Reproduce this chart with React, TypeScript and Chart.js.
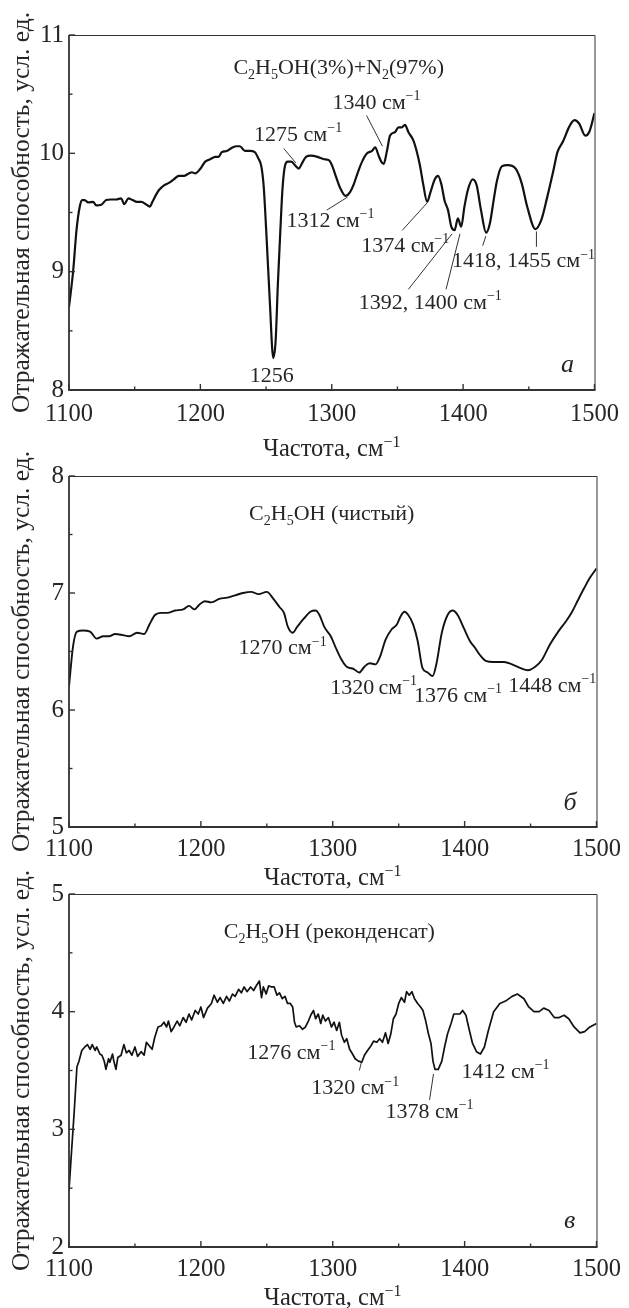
import React, { useEffect, useRef } from 'react';
import { Chart, registerables } from 'chart.js';

Chart.register(...registerables);

const FONT = "'Liberation Serif', 'Times New Roman', Times, serif";
const TEXT = '#262626';
const AXIS = '#333333';

// ---------- shared axis values ----------
const xTickValues = [1100, 1200, 1300, 1400, 1500];
const xMinorStep = 50;
const yMinorStep = 0.5;
const yTitle = 'Отражательная способность, усл. ед.';
const xTitleParts: [string, string][] = [['Частота, см', ''], ['−1', 'sup']];

// ---------- panel а: C2H5OH(3%)+N2(97%) ----------
const freqA = [
  1100, 1103.2, 1105.7, 1108.2, 1110, 1112, 1114.5, 1118.3, 1120.8, 1124.6, 1128.3, 1132, 1135.9, 1139.7,
  1142.1, 1145.2, 1148.4, 1151.7, 1155.2, 1158.5, 1161.5, 1163.5, 1166, 1168.5, 1172.3, 1176, 1179.8,
  1183.6, 1187.4, 1191.2, 1193.6, 1196, 1200, 1203.7, 1207.5, 1211.3, 1213.8, 1216.3, 1220, 1223.8,
  1227.6, 1230.1, 1234, 1237.7, 1241.4, 1244, 1246.4, 1248.2, 1250.2, 1252.8, 1255.5, 1257.3, 1259,
  1260.8, 1262.5, 1264.5, 1266.5, 1269.1, 1272.8, 1274.9, 1277.1, 1280.4, 1284.1, 1289.2, 1294.2, 1298,
  1300.5, 1303, 1306.7, 1310.5, 1313.8, 1316.8, 1319.9, 1323.1, 1326.9, 1330.6, 1333.1, 1335.7, 1337.7,
  1339.5, 1342, 1344.4, 1348.2, 1350.8, 1353.3, 1355.8, 1358.3, 1362.1, 1364.6, 1367.1, 1369.6, 1372.6,
  1375.1, 1378.4, 1380.9, 1383.4, 1385.9, 1388.5, 1391, 1393.5, 1396, 1398.5, 1401, 1403.6, 1407.3,
  1410.3, 1413.6, 1417.5, 1420.4, 1423.6, 1425.8, 1429.4, 1434, 1440, 1444.5, 1449, 1455, 1459.6, 1464,
  1468.8, 1471.8, 1476, 1481, 1484.8, 1488.4, 1493, 1496, 1500,
];
const reflA = [
  8.7, 9.01, 9.35, 9.55, 9.605, 9.605, 9.585, 9.59, 9.56, 9.565, 9.605, 9.61, 9.61, 9.62,
  9.57, 9.62, 9.605, 9.59, 9.59, 9.57, 9.55, 9.59, 9.645, 9.69, 9.73, 9.75, 9.78,
  9.81, 9.81, 9.83, 9.84, 9.83, 9.87, 9.93, 9.95, 9.97, 9.97, 10.01, 10.02, 10.045,
  10.06, 10.06, 10.02, 10.02, 10.01, 9.96, 9.89, 9.72, 9.33, 8.76, 8.27, 8.42, 8.9,
  9.33, 9.7, 9.9, 9.93, 9.93, 9.89, 9.87, 9.91, 9.97, 9.98, 9.97, 9.95, 9.94,
  9.89, 9.81, 9.7, 9.64, 9.67, 9.74, 9.84, 9.93, 10.0, 10.02, 10.05, 9.98, 9.93,
  9.91, 10.02, 10.15, 10.18, 10.22, 10.22, 10.24, 10.18, 10.11, 10.02, 9.9, 9.74, 9.59,
  9.67, 9.78, 9.81, 9.74, 9.6, 9.52, 9.38, 9.35, 9.45, 9.38, 9.55, 9.69, 9.78,
  9.73, 9.52, 9.33, 9.41, 9.63, 9.77, 9.89, 9.9, 9.87, 9.75, 9.54, 9.36, 9.44, 9.63,
  9.86, 10.01, 10.1, 10.23, 10.28, 10.25, 10.15, 10.18, 10.34,
];
const yTicksA = [8, 9, 10, 11];

// ---------- panel б: C2H5OH (чистый) ----------
const freqB = [
  1100, 1103, 1106, 1110.6, 1116, 1121, 1126, 1130.4, 1135, 1141, 1145.6, 1151.7, 1157, 1161, 1165,
  1170, 1174.5, 1180.5, 1186.6, 1191, 1195, 1198.8, 1203, 1208, 1214, 1220, 1226, 1232, 1238, 1243.8,
  1250, 1255, 1259.6, 1263, 1266, 1269.6, 1273, 1278, 1283, 1287, 1290, 1293.6, 1298.5, 1302, 1306.7,
  1310.6, 1316, 1320, 1324, 1328, 1332.5, 1336, 1340, 1344.7, 1348.6, 1351.4, 1354.4, 1357.4, 1361,
  1364.4, 1368, 1372, 1375.7, 1378.7, 1382.7, 1387, 1391, 1394.8, 1399.4, 1404, 1408, 1411.6, 1416,
  1422, 1430, 1436, 1442, 1448, 1453.5, 1458.7, 1464.7, 1471, 1477, 1481.5, 1486, 1490.6, 1495, 1500,
];
const reflB = [
  6.2, 6.54, 6.67, 6.68, 6.67, 6.61, 6.63, 6.63, 6.65, 6.64, 6.63, 6.66, 6.65, 6.73, 6.81,
  6.83, 6.83, 6.85, 6.86, 6.89, 6.86, 6.9, 6.93, 6.92, 6.95, 6.96, 6.98, 7.0, 7.01, 6.99,
  7.01, 6.95, 6.88, 6.83, 6.71, 6.66, 6.71, 6.78, 6.84, 6.85, 6.81, 6.71, 6.63, 6.54, 6.43,
  6.37, 6.35, 6.32, 6.37, 6.4, 6.39, 6.46, 6.6, 6.69, 6.73, 6.8, 6.84, 6.81, 6.73,
  6.59, 6.36, 6.32, 6.29, 6.4, 6.66, 6.81, 6.85, 6.81, 6.7, 6.59, 6.53, 6.47, 6.42,
  6.41, 6.41, 6.39, 6.36, 6.34, 6.37, 6.43, 6.56, 6.67, 6.76, 6.84, 6.94, 7.04, 7.13, 7.21,
];
const yTicksB = [5, 6, 7, 8];

// ---------- panel в: C2H5OH (реконденсат) ----------
const freqC = [
  1100, 1101.5, 1104, 1106, 1107.6, 1109.7, 1112, 1114, 1116, 1117.6, 1119.8, 1121, 1123.4, 1125,
  1126.7, 1128, 1130, 1131, 1133, 1134, 1135.6, 1137, 1139.5, 1141.6, 1143.5, 1145.6, 1147.7, 1150,
  1152, 1154.7, 1157, 1158.7, 1160.8, 1163, 1165, 1167.5, 1170, 1172, 1174, 1175.4, 1177.5, 1179.6,
  1182, 1184, 1186.6, 1188.8, 1191, 1193, 1195.7, 1198, 1200, 1202, 1205, 1208, 1210, 1212.5, 1214.6,
  1217, 1219.5, 1221.6, 1224, 1226, 1228.6, 1230.7, 1232.8, 1235, 1237.7, 1240, 1242, 1244.4, 1246,
  1247.4, 1249.5, 1251.4, 1253.5, 1255.6, 1257.7, 1259.6, 1261.7, 1263.8, 1265.7, 1267.8, 1269.6, 1271,
  1272.3, 1274.8, 1277, 1279.3, 1281.5, 1283.3, 1285.4, 1287, 1289, 1290.9, 1292.4, 1294.5, 1296.7, 1299,
  1301, 1303, 1305, 1306.7, 1308.8, 1310.6, 1312.8, 1315, 1317, 1319.5, 1322, 1324, 1326.4, 1329, 1331,
  1333.4, 1335.6, 1337.7, 1340, 1342, 1344, 1346, 1348, 1350, 1352, 1354.4, 1356, 1358, 1360, 1362,
  1364.4, 1366.6, 1368.4, 1370.5, 1372.6, 1374.5, 1376, 1377.5, 1380, 1382.7, 1384.8, 1387, 1389.7,
  1391.8, 1394, 1396.4, 1398.5, 1401, 1403, 1406, 1409, 1412, 1415, 1418, 1422, 1426.7, 1431, 1436,
  1440, 1445, 1448.6, 1452.6, 1456.5, 1460, 1464, 1468, 1471.7, 1475.4, 1479, 1483, 1487.5, 1491, 1495,
  1500,
];
const reflC = [
  2.48, 2.74, 3.16, 3.53, 3.58, 3.67, 3.7, 3.72, 3.68, 3.72, 3.67, 3.7, 3.64, 3.63,
  3.58, 3.51, 3.6, 3.57, 3.64, 3.58, 3.51, 3.61, 3.63, 3.72, 3.65, 3.67, 3.63, 3.7,
  3.62, 3.66, 3.63, 3.74, 3.71, 3.68, 3.78, 3.87, 3.88, 3.91, 3.87, 3.92, 3.83, 3.87,
  3.92, 3.88, 3.95, 3.91, 3.98, 3.93, 4.01, 3.98, 4.04, 3.95, 4.03, 4.07, 4.14, 4.08, 4.12,
  4.07, 4.13, 4.09, 4.15, 4.13, 4.19, 4.16, 4.21, 4.17, 4.21, 4.18, 4.22, 4.26, 4.12,
  4.21, 4.15, 4.22, 4.21, 4.21, 4.14, 4.16, 4.11, 4.13, 4.07, 4.07, 4.04, 3.91,
  3.87, 3.88, 3.85, 3.87, 3.92, 3.97, 4.01, 3.94, 3.98, 3.9, 3.97, 3.92, 3.95, 3.87,
  3.91, 3.84, 3.91, 3.8, 3.74, 3.77, 3.68, 3.64, 3.6, 3.58, 3.57, 3.63, 3.67, 3.71, 3.75,
  3.74, 3.77, 3.74, 3.82, 3.73, 3.81, 3.94, 3.98, 4.07, 4.12, 4.08, 4.17, 4.14, 4.17, 4.11,
  4.07, 4.04, 4.01, 3.92, 3.81, 3.73, 3.58, 3.51, 3.51, 3.58, 3.7, 3.81, 3.9,
  3.98, 3.98, 3.98, 4.01, 3.97, 3.87, 3.73, 3.66, 3.64, 3.7, 3.84, 4.0, 4.07, 4.09, 4.13,
  4.15, 4.11, 4.04, 4.0, 4.0, 4.03, 4.01, 3.95, 3.95, 3.97, 3.94, 3.87, 3.82, 3.83, 3.87,
  3.9,
];
const yTicksC = [2, 3, 4, 5];

type Part = [string, string];
type Note = { parts: Part[]; f: number; v: number; size?: number; italic?: boolean };
type Leader = [number, number, number, number];

const sub = (t: string): Part => [t, 'sub'];
const sup = (t: string): Part => [t, 'sup'];
const txt = (t: string): Part => [t, ''];
const cm = (n: string): Part[] => [txt(n + ' см'), sup('−1')];

const notesA: Note[] = [
  { parts: [txt('C'), sub('2'), txt('H'), sub('5'), txt('OH(3%)+N'), sub('2'), txt('(97%)')], f: 1305.3, v: 10.73 },
  { parts: cm('1340'), f: 1334, v: 10.44 },
  { parts: cm('1275'), f: 1274.4, v: 10.17 },
  { parts: cm('1312'), f: 1299, v: 9.44 },
  { parts: cm('1374'), f: 1355.9, v: 9.23 },
  { parts: cm('1392, 1400'), f: 1375, v: 8.75 },
  { parts: cm('1418, 1455'), f: 1446, v: 9.1 },
  { parts: [txt('1256')], f: 1254.4, v: 8.13 },
  { parts: [txt('а')], f: 1479.4, v: 8.23, size: 26, italic: true },
];
const leadersA: Leader[] = [
  [1326.5, 10.32, 1338.6, 10.06],
  [1263.5, 10.04, 1272.6, 9.92],
  [1296.2, 9.52, 1312, 9.63],
  [1353.7, 9.35, 1372.5, 9.58],
  [1358.3, 8.85, 1391.6, 9.32],
  [1387, 8.85, 1397.6, 9.32],
  [1414.9, 9.22, 1417.3, 9.3],
  [1455.8, 9.21, 1455.8, 9.34],
];

const notesB: Note[] = [
  { parts: [txt('C'), sub('2'), txt('H'), sub('5'), txt('OH (чистый)')], f: 1299.2, v: 7.69 },
  { parts: cm('1270'), f: 1262, v: 6.54 },
  { parts: [txt('1320'), txt('\u2009см'), sup('−1')], f: 1331, v: 6.2 },
  { parts: cm('1376'), f: 1395, v: 6.13 },
  { parts: cm('1448'), f: 1466.5, v: 6.22 },
  { parts: [txt('б')], f: 1480, v: 5.22, size: 26, italic: true },
];
const leadersB: Leader[] = [];

const notesC: Note[] = [
  { parts: [txt('C'), sub('2'), txt('H'), sub('5'), txt('OH (реконденсат)')], f: 1297.4, v: 4.69 },
  { parts: cm('1276'), f: 1268.6, v: 3.66 },
  { parts: cm('1320'), f: 1317, v: 3.36 },
  { parts: cm('1378'), f: 1373.4, v: 3.16 },
  { parts: cm('1412'), f: 1431, v: 3.5 },
  { parts: [txt('в')], f: 1479.6, v: 2.24, size: 26, italic: true },
];
const leadersC: Leader[] = [
  [1320.2, 3.5, 1321.7, 3.57],
  [1373.4, 3.25, 1376.4, 3.47],
];

function drawRich(ctx: CanvasRenderingContext2D, parts: Part[], cx: number, cy: number, size: number, italic = false) {
  const main = `${italic ? 'italic ' : ''}${size}px ${FONT}`;
  const small = `${Math.round(size * 0.64)}px ${FONT}`;
  let w = 0;
  for (const [t, k] of parts) {
    ctx.font = k ? small : main;
    w += ctx.measureText(t).width;
  }
  let x = cx - w / 2;
  const base = cy + size * 0.34;
  ctx.textBaseline = 'alphabetic';
  ctx.textAlign = 'left';
  ctx.fillStyle = TEXT;
  for (const [t, k] of parts) {
    ctx.font = k ? small : main;
    const dy = k === 'sup' ? -size * 0.4 : k === 'sub' ? size * 0.22 : 0;
    ctx.fillText(t, x, base + dy);
    x += ctx.measureText(t).width;
  }
}

type PanelCfg = {
  freq: number[];
  refl: number[];
  yTicks: number[];
  notes: Note[];
  leaders: Leader[];
  top: number;
  height: number;
  padTop: number;
  xScaleH: number;
  labelPad: number;
  titleOffset: number;
  lineWidth: number;
  tension: number;
};

const panels: PanelCfg[] = [
  { freq: freqA, refl: reflA, yTicks: yTicksA, notes: notesA, leaders: leadersA, top: 0, height: 470, padTop: 35, xScaleH: 80, labelPad: 10, titleOffset: 58, lineWidth: 2.2, tension: 0.35 },
  { freq: freqB, refl: reflB, yTicks: yTicksB, notes: notesB, leaders: leadersB, top: 430, height: 480, padTop: 46, xScaleH: 83, labelPad: 8, titleOffset: 50, lineWidth: 1.9, tension: 0.35 },
  { freq: freqC, refl: reflC, yTicks: yTicksC, notes: notesC, leaders: leadersC, top: 850, height: 458, padTop: 44, xScaleH: 61, labelPad: 8, titleOffset: 50, lineWidth: 1.7, tension: 0 },
];

function Panel({ cfg }: { cfg: PanelCfg }) {
  const ref = useRef<HTMLCanvasElement | null>(null);
  useEffect(() => {
    if (!ref.current) return;
    const yMin = cfg.yTicks[0];
    const yMax = cfg.yTicks[cfg.yTicks.length - 1];
    const xMin = xTickValues[0];
    const xMax = xTickValues[xTickValues.length - 1];

    const framePlugin = {
      id: 'frame',
      afterDraw(chart: any) {
        const ctx: CanvasRenderingContext2D = chart.ctx;
        const { left, right, top, bottom } = chart.chartArea;
        const xs = chart.scales.x;
        const ys = chart.scales.y;
        ctx.save();
        ctx.strokeStyle = AXIS;
        ctx.lineWidth = 1;
        ctx.beginPath();
        ctx.moveTo(left, top + 0.5);
        ctx.lineTo(right + 0.5, top + 0.5);
        ctx.lineTo(right + 0.5, bottom);
        ctx.stroke();
        ctx.lineWidth = 1.8;
        ctx.beginPath();
        ctx.moveTo(left, top);
        ctx.lineTo(left, bottom);
        ctx.lineTo(right + 1, bottom);
        ctx.stroke();
        ctx.lineWidth = 1.4;
        for (let f = xMin; f <= xMax + 1e-9; f += xMinorStep) {
          const px = xs.getPixelForValue(f);
          const len = Math.abs(f % 100) < 1e-6 ? 6 : 3.5;
          ctx.beginPath();
          ctx.moveTo(px, bottom);
          ctx.lineTo(px, bottom - len);
          ctx.stroke();
        }
        for (let v = yMin; v <= yMax + 1e-9; v += yMinorStep) {
          const py = ys.getPixelForValue(v);
          const len = Math.abs(v - Math.round(v)) < 1e-6 ? 6 : 3.5;
          ctx.beginPath();
          ctx.moveTo(left, py);
          ctx.lineTo(left + len, py);
          ctx.stroke();
        }
        // x axis title with superscript
        drawRich(ctx, xTitleParts, (left + right) / 2, bottom + cfg.titleOffset, 24.5);
        ctx.restore();
      },
    };

    const notesPlugin = {
      id: 'notes',
      afterDatasetsDraw(chart: any) {
        const ctx: CanvasRenderingContext2D = chart.ctx;
        const xs = chart.scales.x;
        const ys = chart.scales.y;
        ctx.save();
        ctx.strokeStyle = AXIS;
        ctx.lineWidth = 1;
        for (const [f1, v1, f2, v2] of cfg.leaders) {
          ctx.beginPath();
          ctx.moveTo(xs.getPixelForValue(f1), ys.getPixelForValue(v1));
          ctx.lineTo(xs.getPixelForValue(f2), ys.getPixelForValue(v2));
          ctx.stroke();
        }
        for (const n of cfg.notes) {
          drawRich(ctx, n.parts, xs.getPixelForValue(n.f), ys.getPixelForValue(n.v), n.size ?? 22, n.italic);
        }
        ctx.restore();
      },
    };

    const chart = new Chart(ref.current, {
      type: 'line',
      data: {
        datasets: [
          {
            data: cfg.freq.map((f, i) => ({ x: f, y: cfg.refl[i] })),
            borderColor: '#111111',
            borderWidth: cfg.lineWidth,
            pointRadius: 0,
            fill: false,
            tension: cfg.tension,
            cubicInterpolationMode: cfg.tension > 0 ? 'monotone' : 'default',
            borderJoinStyle: 'round',
          },
        ],
      },
      options: {
        animation: false,
        responsive: false,
        maintainAspectRatio: false,
        events: [],
        layout: { padding: { top: cfg.padTop, right: 29, left: 0, bottom: 0 } },
        plugins: { legend: { display: false }, tooltip: { enabled: false }, title: { display: false } },
        scales: {
          x: {
            type: 'linear',
            min: xMin,
            max: xMax,
            afterFit: (s: any) => {
              s.height = cfg.xScaleH;
            },
            afterBuildTicks: (s: any) => {
              s.ticks = xTickValues.map((value) => ({ value }));
            },
            grid: { display: false, drawTicks: false },
            border: { display: false },
            ticks: {
              font: { family: FONT, size: 24.5 },
              color: TEXT,
              padding: cfg.labelPad,
              maxRotation: 0,
              autoSkip: false,
              callback: (value: any) => String(value),
            },
          },
          y: {
            type: 'linear',
            min: yMin,
            max: yMax,
            afterFit: (s: any) => {
              s.width = 69;
            },
            afterBuildTicks: (s: any) => {
              s.ticks = cfg.yTicks.map((value) => ({ value }));
            },
            grid: { display: false, drawTicks: false },
            border: { display: false },
            ticks: {
              font: { family: FONT, size: 25 },
              color: TEXT,
              padding: 5,
              callback: (value: any) => String(value),
            },
            title: {
              display: true,
              text: yTitle,
              font: { family: FONT, size: 25.5 },
              color: TEXT,
              padding: { top: 7, bottom: 0 },
            },
          },
        },
      },
      plugins: [notesPlugin, framePlugin],
    } as any);
    return () => chart.destroy();
  }, [cfg]);

  return (
    <canvas
      ref={ref}
      width={629}
      height={cfg.height}
      style={{ position: 'absolute', left: 0, top: cfg.top, width: 629, height: cfg.height }}
    />
  );
}

export default function App() {
  return (
    <div style={{ position: 'absolute', left: 0, top: 0, width: 629, height: 1308, background: '#ffffff', overflow: 'hidden' }}>
      {panels.map((p, i) => (
        <Panel key={i} cfg={p} />
      ))}
    </div>
  );
}
